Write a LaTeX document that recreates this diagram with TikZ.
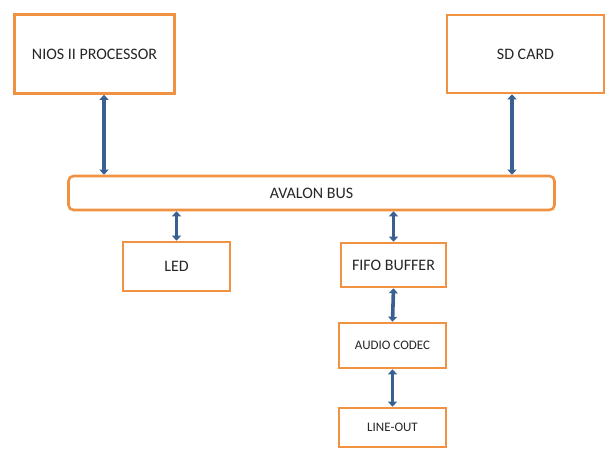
\documentclass[tikz,border=0pt]{standalone}
\usepackage{fontspec}
\setmainfont{Carlito}
\usetikzlibrary{arrows.meta}
\definecolor{boxorange}{RGB}{241,146,66}
\definecolor{linkblue}{RGB}{58,96,146}
\begin{document}
\begin{tikzpicture}[x=1pt, y=-1pt,
  blk/.style n args={2}{draw=boxorange, line width=2.6pt, fill=white,
                minimum width=#1, minimum height=#2, inner sep=0pt,
                text=black!85, font=\fontsize{16}{19}\selectfont},
  small/.style={font=\fontsize{13}{15}\selectfont},
  bidir/.style={{Triangle[width=9pt,length=5pt]}-{Triangle[width=9pt,length=5pt]},
                line width=3.6pt, draw=linkblue}
]
  \useasboundingbox (0,0) rectangle (607,450);

  % Blocs
  \node[blk={160}{79}] (nios) at (94.5,54) {NIOS II PROCESSOR};
  \node[blk={157}{78}] (sd) at (525.5,54) {SD CARD};
  \node[blk={486}{34}, rounded corners=5pt] (bus) at (311.5,193) {AVALON BUS};
  \node[blk={107}{49}] (led) at (176.5,266.5) {LED};
  \node[blk={105}{44}] (fifo) at (393.5,265) {FIFO BUFFER};
  \node[blk={107}{45}, small] (codec) at (392.5,345.5) {AUDIO CODEC};
  \node[blk={107}{39}, small] (lineout) at (392.5,427.5) {LINE-OUT};

  % Liaisons
  \draw[bidir] ([xshift=9.5pt]nios.south) -- ([xshift=9.5pt]nios.south |- bus.north);
  \draw[bidir] ([xshift=-13.5pt]sd.south) -- ([xshift=-13.5pt]sd.south |- bus.north);
  \draw[bidir] (bus.south -| led.north) -- (led.north);
  \draw[bidir] (bus.south -| fifo.north) -- (fifo.north);
  \draw[bidir] (fifo.south) -- (codec.north);
  \draw[bidir] (codec.south) -- (lineout.north);
\end{tikzpicture}
\end{document}
